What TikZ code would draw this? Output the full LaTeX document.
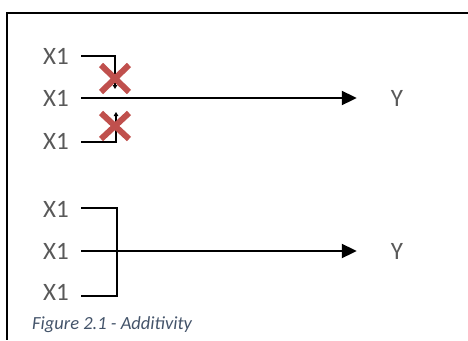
\documentclass[tikz,border=0pt]{standalone}
\usepackage{fontspec}
\setmainfont{Carlito}
\usetikzlibrary{arrows.meta}
\definecolor{labelgray}{HTML}{595959}
\definecolor{captiongray}{HTML}{44546A}
\definecolor{crossred}{HTML}{C0504D}
\tikzset{
  lbl/.style={inner sep=0pt, text=labelgray, font=\fontsize{25}{25}\selectfont},
  outlbl/.style={lbl, minimum width=80pt},
  wire/.style={line width=2pt, black},
  main/.style={wire, -{Triangle[length=15pt,width=14pt]}},
  tiny/.style={wire, -{Triangle[length=4pt,width=4.5pt]}},
  cross/.style={line width=6pt, crossred},
  frame/.style={line width=2.2pt, black},
}
\begin{document}
\begin{tikzpicture}[x=1pt, y=-1pt]
  \useasboundingbox (0,0) rectangle (468,340);

  % open frame: top and left edges only
  \draw[frame] (468,13) -| (7,340);

  % ---- upper group: only the middle input reaches the output ----
  \node[lbl] (a1) at (56,56) {X1};
  \node[lbl] (a2) at (56,98) {X1};
  \node[lbl] (a3) at (56,141) {X1};
  \node[outlbl] (ya) at (397,98) {Y};

  \draw[tiny] ([xshift=12pt]a1.east |- a1) -- (115,56) -- (115,89);
  \draw[main] ([xshift=12pt]a2.east |- a2) -- (ya.west);
  \draw[tiny] ([xshift=12pt]a3.east |- 0,142) -- (116,142) -- (116,112);

  % blocked branches
  \draw[cross] (101,65) -- (129,92) (129,65) -- (101,92);
  \draw[cross] (101,113) -- (129,139) (129,113) -- (101,139);

  % ---- lower group: all inputs joined into one output ----
  \node[lbl] (b1) at (56,209) {X1};
  \node[lbl] (b2) at (56,251) {X1};
  \node[lbl] (b3) at (56,292) {X1};
  \node[outlbl] (yb) at (397,251) {Y};

  \draw[wire] ([xshift=12pt]b1.east |- 0,208) -- (117,208) -- (117,296)
              -- ([xshift=12pt]b3.east |- 0,296);
  \draw[main] ([xshift=12pt]b2.east |- b2) -- (yb.west);

  % caption
  \node[anchor=west, inner sep=0pt, text=captiongray,
        font=\fontsize{18.5}{18.5}\selectfont\itshape] (cap) at (32,325)
        {Figure 2.1 - Additivity};
\end{tikzpicture}
\end{document}
